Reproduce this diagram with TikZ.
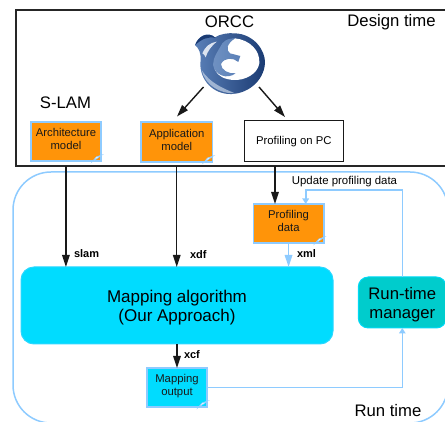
\documentclass[tikz,border=0pt]{standalone}
\usepackage{fontspec}
\setmainfont{Liberation Sans}
\usetikzlibrary{arrows.meta,calc}
\definecolor{lblue}{HTML}{8ECBFF}
\definecolor{orng}{HTML}{FF9409}
\definecolor{cyanf}{HTML}{00DCFF}
\definecolor{tealf}{HTML}{00CCCC}
\definecolor{ldk}{HTML}{1A3A72}
\definecolor{lmid}{HTML}{5A80B8}
\definecolor{llt}{HTML}{C5D3E6}
\tikzset{
  x=1pt,y=-1pt,
  every node/.append style={outer sep=0pt},
  big/.style={font=\fontsize{16.7}{19}\selectfont},
  notebox/.style={draw=lblue,line width=1.6pt,inner sep=0pt,minimum width=#1,align=center,
     font=\fontsize{11.3}{12.7}\selectfont,text=black!90,text depth=4.8pt},
  blk/.style={draw=black!90,line width=1.4pt,-{Triangle[length=12pt,width=7.5pt]}},
  blu/.style={draw=lblue,line width=1.6pt,-{Triangle[length=12pt,width=7.5pt]}},
  blus/.style={draw=lblue,line width=1.6pt,-{Triangle[length=5.5pt,width=6.5pt]}},
  lab/.style={font=\bfseries\fontsize{11}{13}\selectfont,inner sep=0pt},
  foldmark/.style={fill=white,draw=lblue,line width=.6pt},
}
\newcommand{\foldat}[1]{\draw[foldmark] ($(#1.south east)+(-9,0.8)$) -- ($(#1.south east)+(0.8,-6)$) -- ($(#1.south east)+(-5,-4)$) -- cycle;}
\begin{document}
\begin{tikzpicture}
\useasboundingbox (0,0) rectangle (445,422);
\clip (0,0) rectangle (445,422);
% frames
\node[draw=black!85,line width=1.3pt,minimum width=431pt,minimum height=156pt,inner sep=0pt,anchor=north west] (design) at (16,10) {};
\node[draw=lblue,line width=1.5pt,rounded corners=38pt,minimum width=435pt,minimum height=251pt,inner sep=0pt,anchor=north west] (run) at (13,172) {};
% logo
\begin{scope}[shift={(185,20)},x=0.3333pt,y=-0.3333pt]
\path[left color=lmid,right color=ldk]
  (30,75) .. controls (38,50) and (68,32) .. (90,52)
  .. controls (105,42) and (130,38) .. (150,40)
  .. controls (205,42) and (242,90) .. (240,130)
  .. controls (236,185) and (185,225) .. (130,222)
  .. controls (75,218) and (40,170) .. (47,120)
  .. controls (48,100) and (42,85) .. (30,75) -- cycle;
% pale lower rim
\fill[llt,opacity=.7] (50,150) .. controls (60,195) and (105,222) .. (150,220)
  .. controls (115,205) and (75,190) .. (50,150) -- cycle;
% main white interior
\fill[white] (150,55) .. controls (195,60) and (226,92) .. (223,130)
  .. controls (218,162) and (180,182) .. (145,180)
  .. controls (120,178) and (100,170) .. (90,150)
  .. controls (86,135) and (88,115) .. (100,100) -- (135,65) -- cycle;
% blade and hook
\path[left color=lmid!80!llt,right color=lmid]
  (150,55) .. controls (125,72) and (122,90) .. (135,100)
  -- (166,108) -- (160,126)
  .. controls (145,112) and (118,112) .. (108,132)
  .. controls (108,150) and (130,162) .. (152,160)
  .. controls (125,180) and (90,165) .. (84,135)
  .. controls (84,112) and (100,92) .. (112,70)
  .. controls (122,58) and (135,55) .. (150,55) -- cycle;
% pale sliver under the tail
\fill[llt!60!white] (52,100) .. controls (60,80) and (75,68) .. (95,65)
  .. controls (80,78) and (68,92) .. (62,112)
  .. controls (60,106) and (56,102) .. (52,100) -- cycle;
% dark edge of the tail
\fill[ldk] (31,75) .. controls (38,50) and (68,32) .. (92,54)
  .. controls (70,48) and (48,58) .. (31,75) -- cycle;
\end{scope}
% labels
\node[big,inner sep=0pt] (orcc) at (229.5,21.5) {ORCC};
\node[big,inner sep=0pt] (dt) at (391.5,22.5) {Design time};
\node[big,inner sep=0pt] (slam) at (65.5,102.5) {S-LAM};
\node[big,inner sep=0pt] (rt) at (388,411) {Run time};
% boxes
\node[notebox={70.5pt},fill=orng,minimum height=39pt,anchor=north west] (arch) at (30.7,122) {Architecture\\model};
\node[notebox={71.5pt},fill=orng,minimum height=40pt,anchor=north west] (appm) at (141,122) {Application\\model};
\node[draw=black!90,line width=1.2pt,minimum width=99pt,minimum height=41pt,inner sep=0pt,anchor=north west,font=\fontsize{11.3}{12.7}\selectfont] (pc) at (244.3,120.7) {Profiling on PC};
\node[notebox={70.5pt},fill=orng,minimum height=39pt,anchor=north west] (pd) at (253.3,204) {Profiling\\data};
\node[draw=cyanf!70!lblue,fill=cyanf,line width=1pt,rounded corners=13pt,minimum width=312pt,minimum height=77pt,inner sep=0pt,align=center,anchor=north west,font=\fontsize{17}{19}\selectfont,text height=35pt] (mapa) at (21,267) {Mapping algorithm\\(Our Approach)};
\node[draw=cyanf!80!tealf,fill=tealf,line width=1pt,rounded corners=10pt,minimum width=88pt,minimum height=51pt,inner sep=0pt,align=center,anchor=north west,big,text height=35pt] (mgr) at (358.3,277) {Run-time\\manager};
\node[notebox={60pt},fill=cyanf,minimum height=39pt,anchor=north west,text depth=4.5pt] (mo) at (147,368) {Mapping\\output};
\foldat{arch}\foldat{appm}\foldat{pd}\foldat{mo}
% coordinates
\coordinate (orccL) at (203.5,87);
\coordinate (orccR) at (259,87);
\coordinate (appIn) at (177,116.5);
\coordinate (pcIn) at (285,117);
\coordinate (pcOut) at (275,166);
\coordinate (pdIn) at (275,204);
\coordinate (upTop) at (402.3,190);
\coordinate (upEnd) at (305.7,190);
\coordinate (upIn) at (305.7,204);
\coordinate (moCorner) at (402.3,387.5);
% arrows
\draw[blk] (orccL) -- (appIn);
\draw[blk] (orccR) -- (pcIn);
\draw[blk,shorten <=5pt] (arch.south) -- (arch.south |- mapa.north);
\draw[blk,shorten <=4pt] (appm.south) -- (appm.south |- mapa.north);
\draw[blk] (pcOut) -- (pdIn);
\draw[blk] (mapa.south -| mo.north) -- (mo.north);
\draw[blu] (pd.south) -- (pd.south |- mapa.north);
\draw[blus] (mgr.north -| upTop) -- (upTop) -- (upEnd) -- (upIn);
\draw[blus] (mo.east |- moCorner) -- (moCorner) -- (moCorner |- mgr.south);
% edge labels
\node[lab,anchor=west] (l1) at (74,253.5) {slam};
\node[lab,anchor=west] (l2) at (190,254.5) {xdf};
\node[lab,anchor=west] (l3) at (297,253.5) {xml};
\node[lab,anchor=west] (l4) at (184,355) {xcf};
\node[inner sep=0pt,font=\fontsize{11.4}{13}\selectfont] (l5) at (344.5,181.5) {Update profiling data};
\end{tikzpicture}
\end{document}
